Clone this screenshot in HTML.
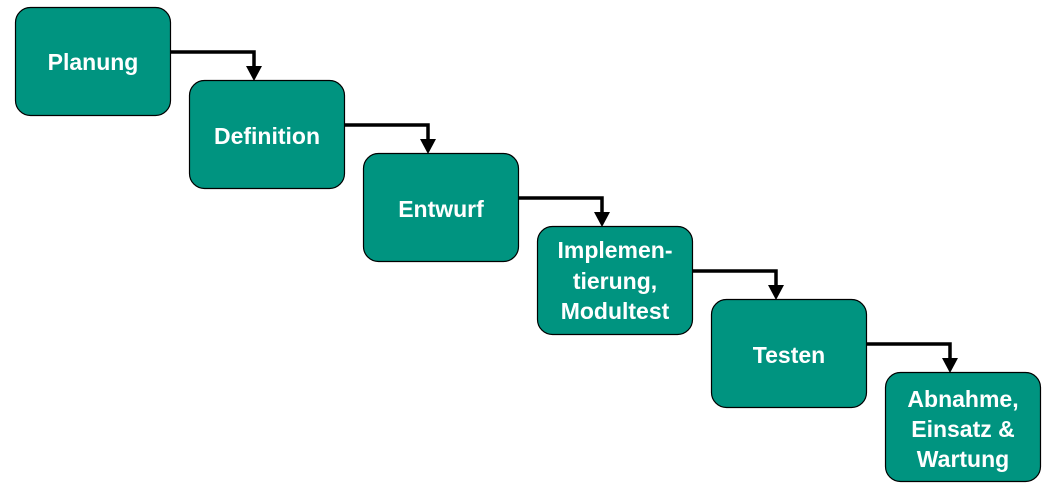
<!DOCTYPE html>
<html><head><meta charset="utf-8"><style>
html,body{margin:0;padding:0;background:#fff;width:1048px;height:491px;overflow:hidden}
text{font-family:"Liberation Sans",Arial,sans-serif;font-weight:bold;font-size:23px;fill:#fff;text-anchor:middle}
</style></head><body>
<svg width="1048" height="491" viewBox="0 0 1048 491" xmlns="http://www.w3.org/2000/svg">
<defs>
<g id="conn">
<polyline points="171,52 254,52 254,68" fill="none" stroke="#000" stroke-width="3.5"/>
<polygon points="246,66 262,66 254,81" fill="#000"/>
</g>
</defs>
<g fill="#009480" stroke="#000" stroke-width="1.2">
<rect x="15.5" y="7.5" width="155" height="108" rx="15"/>
<rect x="189.5" y="80.5" width="155" height="108" rx="15"/>
<rect x="363.5" y="153.5" width="155" height="108" rx="15"/>
<rect x="537.5" y="226.5" width="155" height="108" rx="15"/>
<rect x="711.5" y="299.5" width="155" height="108" rx="15"/>
<rect x="885.5" y="372.5" width="155" height="109" rx="15"/>
</g>
<use href="#conn"/>
<use href="#conn" transform="translate(174,73)"/>
<use href="#conn" transform="translate(348,146)"/>
<use href="#conn" transform="translate(522,219)"/>
<use href="#conn" transform="translate(696,292)"/>
<text x="93" y="70">Planung</text>
<text x="267" y="144">Definition</text>
<text x="441" y="217">Entwurf</text>
<text x="615" y="258">Implemen-</text>
<text x="615" y="289">tierung,</text>
<text x="615" y="319">Modultest</text>
<text x="789" y="363">Testen</text>
<text x="963" y="407">Abnahme,</text>
<text x="963" y="437">Einsatz &amp;</text>
<text x="963" y="467">Wartung</text>
</svg>
</body></html>
